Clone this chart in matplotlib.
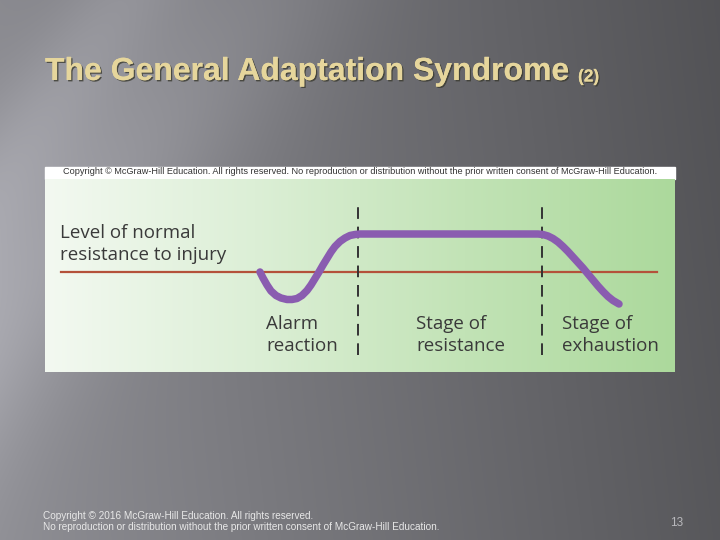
import numpy as np
import matplotlib
matplotlib.use("Agg")
import matplotlib.pyplot as plt
from matplotlib.colors import LinearSegmentedColormap
import matplotlib.patheffects as pe

# ---- data (time in arbitrary units, resistance relative to normal level) ----
curve_time = [215, 218, 222, 226, 231, 236, 242, 247, 252, 257, 262, 266, 270, 274,
              278, 282, 286, 290, 295, 300, 305, 310, 315,
              493, 498, 503, 508, 513, 518, 523, 528, 533, 538, 543, 548, 553, 558,
              563, 568, 574]
curve_resistance = [0, -6, -13, -19, -23.5, -26, -27.5, -27.5, -26.5, -23.5, -18.5, -13,
                    -6.5, 0, 7, 13.5, 20, 25.5, 30.5, 34, 36.5, 37.5, 38,
                    38, 37.5, 36, 33.5, 30, 25.5, 20.5, 15, 9.5, 4, -2, -8, -14, -19.5,
                    -24.5, -28.5, -32]
normal_level_span = [16, 612]
normal_level = 0
stage_boundaries = [313, 497]
boundary_span = [-83, 72]
stage_labels = ["Alarm\nreaction", "Stage of\nresistance", "Stage of\nexhaustion"]
stage_label_x = [221, 371, 517]
level_label = "Level of normal\nresistance to injury"
title = "The General Adaptation Syndrome"
title_suffix = "(2)"
panel_copyright = ("Copyright \u00a9 McGraw-Hill Education. All rights reserved. No reproduction "
                   "or distribution without the prior written consent of McGraw-Hill Education.")
footer_lines = ["Copyright \u00a9 2016 McGraw-Hill Education. All rights reserved.",
                "No reproduction or distribution without the prior written consent of McGraw-Hill Education."]
slide_number = "13"

W, H = 720, 540
fig = plt.figure(figsize=(W / 100, H / 100), dpi=100)

# ---- slide background ----
bg = fig.add_axes([0, 0, 1, 1])
bg.set_axis_off()
yy, xx = np.mgrid[0:H, 0:W]
base = 0.55 - 0.22 * (xx / W) + 0.02 * (yy / H)
d = (xx + 0.9 * yy - 280) / 130.0
streak = 0.11 * np.exp(-d ** 2) * np.clip(1 - xx / 520, 0, 1)
d2 = (xx + 0.7 * yy - 120) / 60.0
streak2 = 0.06 * np.exp(-d2 ** 2)
val = np.clip(base + streak + streak2, 0, 1)
img = np.dstack([val * 0.98, val * 0.98, val * 1.02])
bg.imshow(np.clip(img, 0, 1), extent=[0, W, H, 0], aspect="auto")
bg.set_xlim(0, W)
bg.set_ylim(H, 0)

# title
shadow = [pe.withSimplePatchShadow(offset=(1, -1), shadow_rgbFace="#3a3a30", alpha=0.8), pe.Normal()]
t = bg.text(45, 72, title, fontsize=23, fontweight="bold", family="Liberation Sans",
            color="#e6d69c", va="center", ha="left")
t.set_path_effects(shadow)
t2 = bg.text(578, 77, title_suffix, fontsize=12.5, fontweight="bold", family="Liberation Sans",
             color="#e6d69c", va="center", ha="left")
t2.set_path_effects(shadow)

# panel white band + copyright
bg.add_patch(plt.Rectangle((45, 167), 630, 12, color="white", zorder=2))
bg.text(360, 171.5, panel_copyright, fontsize=6.6, family=["Liberation Sans Narrow", "Liberation Sans"],
        color="#333333", ha="center", va="center", zorder=3)

# footer
bg.text(43, 516, footer_lines[0], fontsize=7.2, family="Liberation Sans", color="#e8e8e8",
        ha="left", va="center")
bg.text(43, 527, footer_lines[1], fontsize=7.2, family="Liberation Sans", color="#e8e8e8",
        ha="left", va="center")
bg.text(677, 523, slide_number, fontsize=8.5, family="Liberation Sans", color="#b8b8bc",
        ha="center", va="center")

# ---- diagram panel ----
ax = fig.add_axes([45 / W, 1 - 372 / H, 630 / W, (372 - 179) / H])
ax.set_xlim(0, 630)
ax.set_ylim(-100, 93)
ax.set_axis_off()
cmap = LinearSegmentedColormap.from_list("g", ["#f3f9f1", "#dcefd6", "#c2e3b6", "#acd99c"])
grad = np.linspace(0, 1, 256)[None, :]
ax.imshow(grad, extent=[0, 630, -100, 93], aspect="auto", cmap=cmap, zorder=0)

ax.plot(normal_level_span, [normal_level, normal_level], color="#b4513a", lw=1.6, zorder=2)
for xb in stage_boundaries:
    ax.plot([xb, xb], boundary_span, color="#333333", lw=1.4, ls=(0, (6, 4)), zorder=2)
ax.plot(curve_time, curve_resistance, color="#8a5cb0", lw=5.4, solid_capstyle="round",
        solid_joinstyle="round", zorder=3)

ax.text(15, 28, level_label, fontsize=13.5, family="Open Sans", color="#3a3a3a",
        ha="left", va="center", linespacing=1.35)
for lx, lab in zip(stage_label_x, stage_labels):
    ax.text(lx, -63, lab, fontsize=13.5, family="Open Sans", color="#3a3a3a",
            ha="left", va="center", linespacing=1.35)

fig.savefig("out.png", dpi=100)
